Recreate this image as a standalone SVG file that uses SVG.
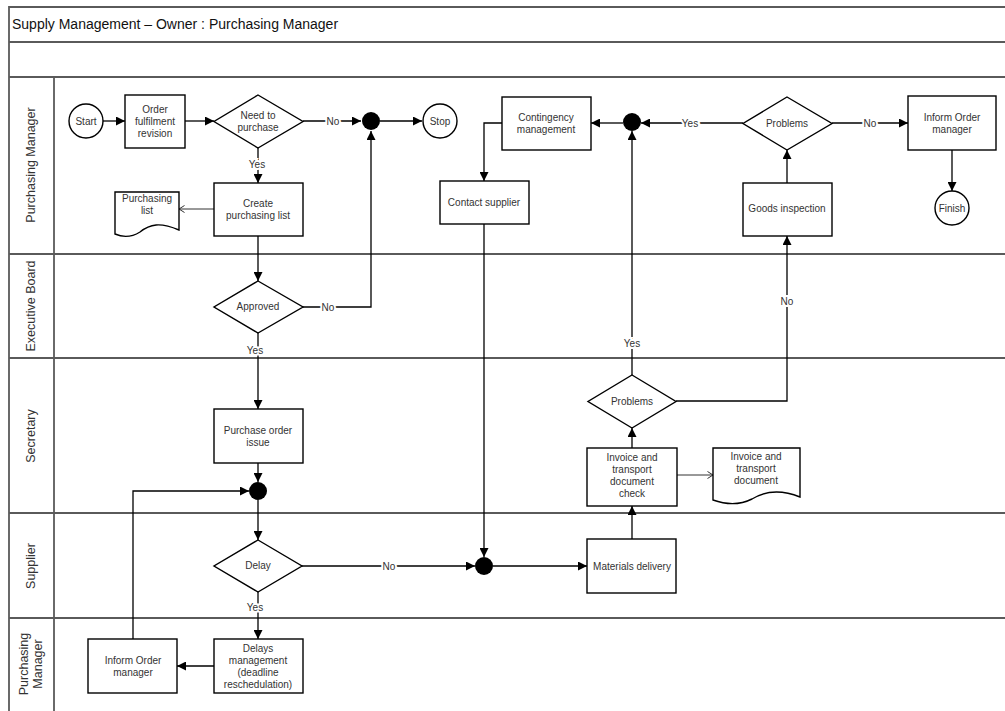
<svg xmlns="http://www.w3.org/2000/svg" width="1005" height="711" viewBox="0 0 1005 711">
  <style>
    .frame { fill: none; stroke: #5a5a5a; stroke-width: 1.8; }
    .box { fill: #fff; stroke: #000; stroke-width: 1.4; }
    .dot { fill: #000; }
    .conn { fill: none; stroke: #000; stroke-width: 1.3; }
    .thin { fill: none; stroke: #333; stroke-width: 1; }
    .t { font-family: "Liberation Sans", Arial, sans-serif; font-size: 10px; fill: #333; text-anchor: middle; dominant-baseline: central; }
    .lbl { font-family: "Liberation Sans", Arial, sans-serif; font-size: 10px; fill: #333; text-anchor: middle; dominant-baseline: central; paint-order: stroke; stroke: #fff; stroke-width: 4px; }
    .lane { font-family: "Liberation Sans", Arial, sans-serif; font-size: 12.5px; fill: #333; text-anchor: middle; dominant-baseline: central; }
    .title { font-family: "Liberation Sans", Arial, sans-serif; font-size: 14px; fill: #111; }
  </style>
  <defs>
    <marker id="arrow" markerUnits="userSpaceOnUse" markerWidth="9" markerHeight="9" refX="9" refY="4.5" orient="auto">
      <path d="M0,0 L9,4.5 L0,9 z" fill="#000"/>
    </marker>
    <marker id="open" markerUnits="userSpaceOnUse" markerWidth="7" markerHeight="8" refX="6" refY="4" orient="auto">
      <path d="M0.5,0.5 L6,4 L0.5,7.5" fill="none" stroke="#333" stroke-width="1"/>
    </marker>
  </defs>

  <rect width="1005" height="711" fill="#fff"/>

  <!-- pool frame and swimlanes -->
  <g id="pool">
    <path class="frame" d="M1006,7 H9 V712"/>
    <path class="frame" d="M9,42 H1006 M9,77 H1006 M9,254 H1006 M9,358 H1006 M9,513 H1006 M9,618 H1006"/>
    <path class="frame" d="M54,77 V712"/>
    <text class="title" x="12" y="29">Supply Management – Owner : Purchasing Manager</text>
    <text class="lane" transform="translate(31,165) rotate(-90)">Purchasing Manager</text>
    <text class="lane" transform="translate(31,306) rotate(-90)">Executive Board</text>
    <text class="lane" transform="translate(31,436) rotate(-90)">Secretary</text>
    <text class="lane" transform="translate(31,566) rotate(-90)">Supplier</text>
    <text class="lane" transform="translate(31,664) rotate(-90)"><tspan x="0" dy="-7">Purchasing</tspan><tspan x="0" dy="14">Manager</tspan></text>
  </g>

  <!-- connectors -->
  <g id="connectors">
    <path class="conn" d="M103,121 H125" marker-end="url(#arrow)"/>
    <path class="conn" d="M185,121 H214" marker-end="url(#arrow)"/>
    <path class="conn" d="M303,121 H361" marker-end="url(#arrow)"/>
    <path class="conn" d="M380,121 H422" marker-end="url(#arrow)"/>
    <path class="conn" d="M258,148 V183" marker-end="url(#arrow)"/>
    <path class="thin" d="M214,209 H179" marker-end="url(#open)"/>
    <path class="conn" d="M258,236 V281" marker-end="url(#arrow)"/>
    <path class="conn" d="M303,307 H371 V131" marker-end="url(#arrow)"/>
    <path class="conn" d="M258,333 V409" marker-end="url(#arrow)"/>
    <path class="conn" d="M258,463 V482" marker-end="url(#arrow)"/>
    <path class="conn" d="M258,500 V540" marker-end="url(#arrow)"/>
    <path class="conn" d="M258,592 V639" marker-end="url(#arrow)"/>
    <path class="conn" d="M214,666 H177" marker-end="url(#arrow)"/>
    <path class="conn" d="M133,639 V491 H249" marker-end="url(#arrow)"/>
    <path class="conn" d="M302,566 H475" marker-end="url(#arrow)"/>
    <path class="conn" d="M493,566 H587" marker-end="url(#arrow)"/>
    <path class="conn" d="M484,224 V557" marker-end="url(#arrow)"/>
    <path class="conn" d="M502,123 H484 V181" marker-end="url(#arrow)"/>
    <path class="conn" d="M623,123 H591" marker-end="url(#arrow)"/>
    <path class="conn" d="M743,123 H641" marker-end="url(#arrow)"/>
    <path class="conn" d="M832,123 H908" marker-end="url(#arrow)"/>
    <path class="conn" d="M952,150 V191" marker-end="url(#arrow)"/>
    <path class="conn" d="M787,183 V150" marker-end="url(#arrow)"/>
    <path class="conn" d="M676,401 H787 V236" marker-end="url(#arrow)"/>
    <path class="conn" d="M632,375 V131" marker-end="url(#arrow)"/>
    <path class="conn" d="M632,448 V428" marker-end="url(#arrow)"/>
    <path class="conn" d="M632,539 V506" marker-end="url(#arrow)"/>
    <path class="thin" d="M677,475 H713" marker-end="url(#open)"/>

    <text class="lbl" x="333" y="121">No</text>
    <text class="lbl" x="257" y="164">Yes</text>
    <text class="lbl" x="328" y="307">No</text>
    <text class="lbl" x="255" y="350">Yes</text>
    <text class="lbl" x="255" y="607">Yes</text>
    <text class="lbl" x="389" y="566">No</text>
    <text class="lbl" x="690" y="123">Yes</text>
    <text class="lbl" x="870" y="123">No</text>
    <text class="lbl" x="787" y="301">No</text>
    <text class="lbl" x="632" y="343">Yes</text>
  </g>

  <!-- Purchasing Manager lane -->
  <g id="start">
    <circle class="box" cx="86" cy="121" r="17"/>
    <text class="t" x="86" y="121">Start</text>
  </g>
  <g id="order-fulfilment">
    <rect class="box" x="125" y="95" width="60" height="53"/>
    <text class="t" x="155" y="109">Order</text>
    <text class="t" x="155" y="121">fulfilment</text>
    <text class="t" x="155" y="133">revision</text>
  </g>
  <g id="need-to-purchase">
    <path class="box" d="M258,95 L303,121.5 L258,148 L214,121.5 z"/>
    <text class="t" x="258" y="115">Need to</text>
    <text class="t" x="258" y="127">purchase</text>
  </g>
  <g id="junction-stop">
    <circle class="dot" cx="371" cy="121" r="9"/>
  </g>
  <g id="stop">
    <circle class="box" cx="440" cy="121" r="17"/>
    <text class="t" x="440" y="121">Stop</text>
  </g>
  <g id="create-list">
    <rect class="box" x="214" y="183" width="89" height="53"/>
    <text class="t" x="258" y="203">Create</text>
    <text class="t" x="258" y="215">purchasing list</text>
  </g>
  <g id="purchasing-list">
    <path class="box" d="M115,192 H179 V230 C160,222 150,224 140,232 C132,237 124,238 115,234 z"/>
    <text class="t" x="147" y="198">Purchasing</text>
    <text class="t" x="147" y="210">list</text>
  </g>
  <g id="contingency">
    <rect class="box" x="502" y="97" width="89" height="53"/>
    <text class="t" x="546" y="117">Contingency</text>
    <text class="t" x="546" y="129">management</text>
  </g>
  <g id="contact-supplier">
    <rect class="box" x="440" y="181" width="89" height="43"/>
    <text class="t" x="484" y="202">Contact supplier</text>
  </g>
  <g id="junction-contingency">
    <circle class="dot" cx="632" cy="122" r="9"/>
  </g>
  <g id="problems-inspection">
    <path class="box" d="M787,97 L832,123.5 L787,150 L743,123.5 z"/>
    <text class="t" x="787" y="123">Problems</text>
  </g>
  <g id="inform-order-top">
    <rect class="box" x="908" y="96" width="88" height="54"/>
    <text class="t" x="952" y="117">Inform Order</text>
    <text class="t" x="952" y="129">manager</text>
  </g>
  <g id="finish">
    <circle class="box" cx="952" cy="208" r="17"/>
    <text class="t" x="952" y="208">Finish</text>
  </g>
  <g id="goods-inspection">
    <rect class="box" x="743" y="183" width="89" height="53"/>
    <text class="t" x="787" y="208">Goods inspection</text>
  </g>

  <!-- Executive Board lane -->
  <g id="approved">
    <path class="box" d="M258,281 L303,307 L258,333 L214,307 z"/>
    <text class="t" x="258" y="306">Approved</text>
  </g>

  <!-- Secretary lane -->
  <g id="purchase-order">
    <rect class="box" x="214" y="409" width="89" height="54"/>
    <text class="t" x="258" y="430">Purchase order</text>
    <text class="t" x="258" y="442">issue</text>
  </g>
  <g id="junction-delay">
    <circle class="dot" cx="258" cy="491" r="9"/>
  </g>
  <g id="problems-invoice">
    <path class="box" d="M632,375 L676,401.5 L632,428 L588,401.5 z"/>
    <text class="t" x="632" y="401">Problems</text>
  </g>
  <g id="invoice-check">
    <rect class="box" x="587" y="448" width="90" height="58"/>
    <text class="t" x="632" y="457">Invoice and</text>
    <text class="t" x="632" y="469">transport</text>
    <text class="t" x="632" y="481">document</text>
    <text class="t" x="632" y="493">check</text>
  </g>
  <g id="invoice-document">
    <path class="box" d="M713,448 H800 V497 C780,489 765,491 752,499 C740,505 727,505 713,500 z"/>
    <text class="t" x="756" y="456">Invoice and</text>
    <text class="t" x="756" y="468">transport</text>
    <text class="t" x="756" y="480">document</text>
  </g>

  <!-- Supplier lane -->
  <g id="delay">
    <path class="box" d="M258,540 L302,566 L258,592 L214,566 z"/>
    <text class="t" x="258" y="565">Delay</text>
  </g>
  <g id="junction-delivery">
    <circle class="dot" cx="484" cy="566" r="9"/>
  </g>
  <g id="materials-delivery">
    <rect class="box" x="587" y="539" width="89" height="54"/>
    <text class="t" x="632" y="566">Materials delivery</text>
  </g>

  <!-- Purchasing Manager (delays) lane -->
  <g id="delays-management">
    <rect class="box" x="214" y="639" width="89" height="54"/>
    <text class="t" x="258" y="648">Delays</text>
    <text class="t" x="258" y="660">management</text>
    <text class="t" x="258" y="672">(deadline</text>
    <text class="t" x="258" y="684">reschedulation)</text>
  </g>
  <g id="inform-order-bottom">
    <rect class="box" x="88" y="639" width="89" height="54"/>
    <text class="t" x="133" y="660">Inform Order</text>
    <text class="t" x="133" y="672">manager</text>
  </g>
</svg>
